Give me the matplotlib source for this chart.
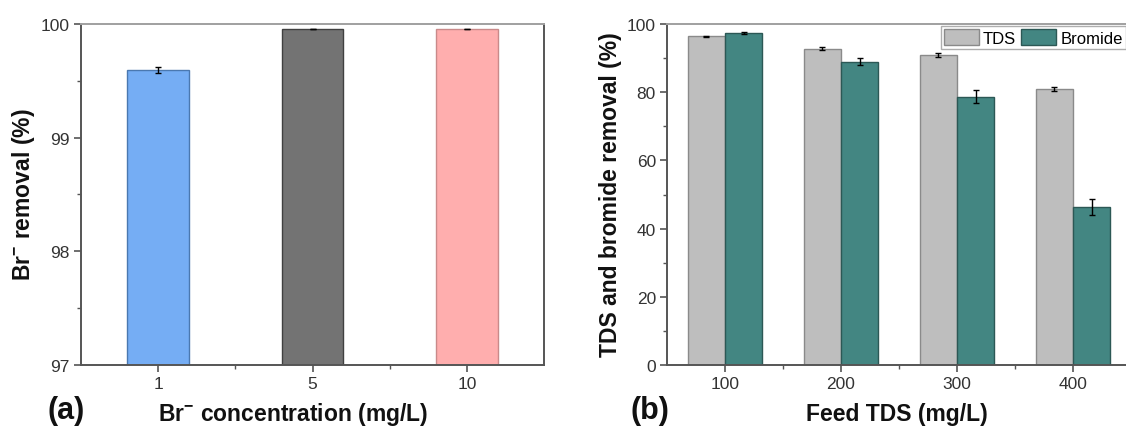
import numpy as np
import matplotlib
matplotlib.use("Agg")
import matplotlib.pyplot as plt
from matplotlib.ticker import MultipleLocator

plt.rcParams['font.family'] = ['Liberation Sans', 'DejaVu Sans']
plt.rcParams['mathtext.fontset'] = 'custom'
plt.rcParams['mathtext.rm'] = 'Liberation Sans'
plt.rcParams['mathtext.bf'] = 'Liberation Sans:bold'

# panel (a)
br_conc = ["1", "5", "10"]
br_removal = [99.595, 99.956, 99.956]
br_err = [0.03, 0.003, 0.003]
br_colors = ["#75adf4", "#737373", "#ffaeae"]
br_edges = ["#4a78b0", "#404040", "#c98a8a"]

# panel (b)
feed_tds = ["100", "200", "300", "400"]
tds_removal = [96.4, 92.8, 91.0, 80.9]
tds_err = [0.2, 0.5, 0.6, 0.6]
bromide_removal = [97.4, 89.0, 78.7, 46.2]
bromide_err = [0.4, 1.1, 1.9, 2.35]

W, H = 1126, 431
fig = plt.figure(figsize=(W / 100, H / 100), dpi=100)

ax1 = fig.add_axes([81 / W, 1 - 366 / H, 463 / W, 341 / H])
ax2 = fig.add_axes([667 / W, 1 - 366 / H, 464 / W, 341 / H])

tick_color = "#333333"
label_kw = dict(fontsize=16.5, fontweight='bold', color="#111111")


def style_axes(ax):
    for s in ["left", "bottom", "right"]:
        ax.spines[s].set_color("#555555")
        ax.spines[s].set_linewidth(1.4)
    ax.spines["top"].set_color("#a0a0a0")
    ax.spines["top"].set_linewidth(1.4)
    ax.tick_params(which='major', direction='out', length=5, width=1.2,
                   color="#555555", labelsize=12.5, labelcolor=tick_color, pad=3)
    ax.tick_params(which='minor', direction='out', length=3, width=1.0,
                   color="#555555")
    ax.tick_params(top=False, right=False, which='both')


# ---- (a)
x1 = np.arange(1, len(br_conc) + 1)
ax1.bar(x1, br_removal, width=0.4, color=br_colors, edgecolor=br_edges,
        linewidth=1.0, bottom=0)
ax1.errorbar(x1, br_removal, yerr=br_err, fmt='none', ecolor='black',
             elinewidth=1.0, capsize=2.5, capthick=1.0)
ax1.set_xlim(0.5, 3.5)
ax1.set_ylim(97, 100)
ax1.set_xticks(x1)
ax1.set_xticklabels(br_conc)
ax1.xaxis.set_minor_locator(MultipleLocator(0.5))
ax1.yaxis.set_major_locator(MultipleLocator(1))
ax1.yaxis.set_minor_locator(MultipleLocator(0.5))
style_axes(ax1)
# hide minor ticks that coincide with majors
ax1.set_xticks([1.5, 2.5], minor=True)

fig.text(24 / W, 1 - 195 / H, r'Br$^{\mathbf{-}}$ removal (%)', rotation=90,
         ha='center', va='center', **label_kw)
fig.text(293 / W, 1 - 415 / H, r'Br$^{\mathbf{-}}$ concentration (mg/L)',
         ha='center', va='center', **label_kw)
fig.text(66 / W, 1 - 411 / H, '(a)', fontsize=22, fontweight='bold',
         ha='center', va='center', color="#111111")

# ---- (b)
x2 = np.arange(1, len(feed_tds) + 1)
w = 0.32
ax2.bar(x2 - w / 2, tds_removal, width=w, color="#bebebe", edgecolor="#8a8a8a",
        linewidth=1.0, label="TDS")
ax2.bar(x2 + w / 2, bromide_removal, width=w, color="#438682", edgecolor="#2c5855",
        linewidth=1.0, label="Bromide")
ax2.errorbar(x2 - w / 2, tds_removal, yerr=tds_err, fmt='none', ecolor='black',
             elinewidth=1.0, capsize=2.5, capthick=1.0)
ax2.errorbar(x2 + w / 2, bromide_removal, yerr=bromide_err, fmt='none', ecolor='black',
             elinewidth=1.0, capsize=2.5, capthick=1.0)
ax2.set_xlim(0.5, 4.5)
ax2.set_ylim(0, 100)
ax2.set_xticks(x2)
ax2.set_xticklabels(feed_tds)
ax2.set_xticks([1.5, 2.5, 3.5], minor=True)
ax2.yaxis.set_major_locator(MultipleLocator(20))
ax2.yaxis.set_minor_locator(MultipleLocator(10))
style_axes(ax2)

leg = ax2.legend(loc='upper left', bbox_to_anchor=(940.5 / W, 1 - 27 / H),
                 bbox_transform=fig.transFigure, ncol=2, fontsize=12,
                 frameon=True, fancybox=False, edgecolor="#9a9a9a",
                 borderpad=0.2, borderaxespad=0, handlelength=2.1,
                 handleheight=1.05, handletextpad=0.25, columnspacing=0.3)
leg.get_frame().set_linewidth(1.0)

fig.text(611 / W, 1 - 195 / H, 'TDS and bromide removal (%)', rotation=90,
         ha='center', va='center', **label_kw)
fig.text(897 / W, 1 - 415 / H, 'Feed TDS (mg/L)', ha='center', va='center',
         **label_kw)
fig.text(650 / W, 1 - 411 / H, '(b)', fontsize=22, fontweight='bold',
         ha='center', va='center', color="#111111")

fig.savefig("out.png", dpi=100)
